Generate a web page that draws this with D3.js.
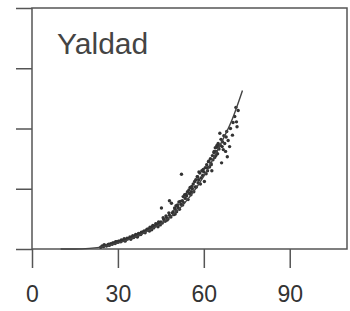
<!DOCTYPE html>
<html>
<head>
<meta charset="utf-8">
<script src="https://cdn.jsdelivr.net/npm/d3@7"></script>
<style>
  body { margin: 0; background: #fff; }
  svg { display: block; font-family: "Liberation Sans", Arial, sans-serif; }
  .axis line { stroke: #555; stroke-width: 1.5; }
  .axis text { fill: #333; font-size: 23px; }
</style>
</head>
<body>
<div class="wrapper"></div>
<script>
var title = "Yaldad";
var xTicks = [0, 30, 60, 90];
var yTicks = [0, 1, 2, 3, 4];

// fitted line (age, value)
var curveAges = [10, 15, 20, 25, 30, 35, 40, 45, 50, 55, 60, 65, 70, 73.5];
var curveValues = [0, 0, 0.01, 0.04, 0.1, 0.18, 0.29, 0.42, 0.6, 0.86, 1.21, 1.66, 2.16, 2.63];

// scatter points (age, value)
var pointAges = [
  24, 24.5, 25, 25.5, 26, 26.5, 27, 27.5, 28, 28.5, 29, 29.5, 30, 30.5,
  31, 31.5, 32, 32.5, 33, 33.5, 34, 34.5, 35, 35.5, 36, 36.5, 37, 37.5, 38, 38.5, 39, 39.5, 40, 40.5,
  41, 41.5, 42, 42.5, 43, 43.5, 44, 44.5, 45, 45.2, 45.5, 46, 46.5, 47, 47.5, 48, 48, 48.5, 48.7, 49, 49.3, 49.5, 50, 50.3, 50.5,
  51, 51.3, 51.5, 52, 52.2, 52.5, 52.8, 53, 53.3, 53.5, 54, 54.3, 54.5, 55, 55.2, 55.5, 56, 56.3, 56.5, 56.8,
  57, 57.2, 57.4, 57.7, 58, 58.3, 58.6, 58.8, 59, 59.3, 59.6, 60, 60.2, 60.5, 60.8, 61, 61.3, 61.6, 62, 62.3, 62.5, 62.8,
  63, 63.2, 63.5, 63.8, 64, 64.3, 64.5, 64.8, 65, 65.3, 65.6, 65.8, 66, 66.2, 66.5, 66.8, 67, 67.3, 67.6, 68, 68.2, 68.5,
  69, 69.3, 70, 70.2, 70.8, 71.2, 71.4, 71.6, 72,
  // second pass over the dense band
  25.2, 26.8, 28.2, 29.2, 30.2, 31.2, 32.2, 33.2, 34.2, 35.2, 36.2, 37.2, 38.2, 39.2, 40.2, 41.2, 42.2, 43.2, 44.2,
  45.8, 46.8, 47.8, 49.8, 50.8, 51.8, 53.8, 54.8, 55.8, 57.8, 59.8, 61.8, 63.6, 64.6, 65.2, 67.8,
  36.8, 41.8, 44.8, 47.2, 50, 52.6, 55.6, 58.2, 61.2, 62.6, 64.2, 66.4
];
var pointValues = [
  0.03, 0.05, 0.04, 0.06, 0.05, 0.07, 0.06, 0.09, 0.08, 0.1, 0.09, 0.12, 0.11, 0.13,
  0.12, 0.14, 0.15, 0.13, 0.16, 0.17, 0.18, 0.16, 0.2, 0.19, 0.21, 0.23, 0.22, 0.25, 0.24, 0.27, 0.29, 0.27, 0.31, 0.33,
  0.3, 0.34, 0.37, 0.35, 0.38, 0.41, 0.37, 0.42, 0.45, 0.68, 0.43, 0.49, 0.46, 0.52, 0.5, 0.56, 0.8, 0.53, 0.76, 0.6, 0.62, 0.57, 0.66, 0.72, 0.62,
  0.69, 0.78, 0.66, 0.74, 1.24, 0.8, 0.87, 0.77, 0.9, 0.84, 0.88, 0.95, 0.82, 0.92, 1.02, 0.9, 1.0, 1.08, 0.95, 1.12,
  1.03, 1.15, 1.03, 1.2, 1.1, 1.28, 1.26, 1.08, 1.18, 1.3, 1.22, 1.28, 1.12, 1.35, 1.25, 1.4, 1.3, 1.45, 1.36, 1.5, 1.42, 1.3,
  1.55, 1.48, 1.6, 1.52, 1.68, 1.62, 1.69, 1.58, 1.75, 1.66, 1.92, 1.72, 1.82, 1.43, 1.78, 1.65, 1.88, 1.75, 1.62, 1.95, 1.53, 1.8,
  1.7, 2.0, 1.89, 2.1, 2.2, 2.35, 2.11, 2.03, 2.3,
  0.07, 0.08, 0.1, 0.12, 0.13, 0.15, 0.17, 0.18, 0.2, 0.22, 0.24, 0.26, 0.28, 0.3, 0.33, 0.36, 0.39, 0.42, 0.45,
  0.52, 0.55, 0.6, 0.68, 0.73, 0.79, 0.91, 0.98, 1.04, 1.2, 1.32, 1.46, 1.62, 1.72, 1.7, 1.86,
  0.2, 0.32, 0.4, 0.48, 0.58, 0.73, 0.95, 1.15, 1.35, 1.4, 1.55, 1.7
];

var width = 350, height = 311;
var svg = d3.select(".wrapper").append("svg").attr("width", width).attr("height", height);

var x = d3.scaleLinear().domain([0, 110]).range([32, 347]);
var y = d3.scaleLinear().domain([0, 4]).range([249, 8]);

// frame
svg.append("rect")
  .attr("x", x(0)).attr("y", y(4))
  .attr("width", x(110) - x(0)).attr("height", y(0) - y(4))
  .attr("fill", "none").attr("stroke", "#555").attr("stroke-width", 1.5);

var xAxis = svg.append("g").classed("axis", true)
  .attr("transform", `translate(0, ${y(0)})`)
  .call(d3.axisBottom(x).tickValues(xTicks).tickSize(19).tickPadding(18));
xAxis.select(".domain").remove();

var yAxis = svg.append("g").classed("axis", true)
  .attr("transform", `translate(${x(0)}, 0)`)
  .call(d3.axisLeft(y).tickValues(yTicks).tickSize(16).tickFormat(""));
yAxis.select(".domain").remove();

// points
var points = pointAges.map((a, i) => ({ age: a, value: pointValues[i] }));
svg.append("g").selectAll("circle").data(points).enter().append("circle")
  .attr("cx", d => x(d.age))
  .attr("cy", d => y(d.value))
  .attr("r", 1.7)
  .attr("fill", "#333");

// fitted line
var line = d3.line().x(d => x(d[0])).y(d => y(d[1])).curve(d3.curveMonotoneX);
svg.append("path")
  .datum(curveAges.map((a, i) => [a, curveValues[i]]))
  .attr("d", line)
  .attr("fill", "none").attr("stroke", "#444").attr("stroke-width", 1.4);

svg.append("text")
  .attr("x", 57).attr("y", 54)
  .attr("font-size", 30).attr("fill", "#444")
  .text(title);
</script>
</body>
</html>
